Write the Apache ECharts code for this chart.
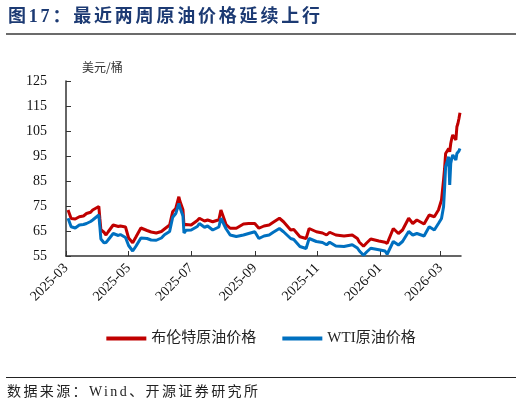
<!DOCTYPE html>
<html>
<head>
<meta charset="utf-8">
<script src="https://cdn.jsdelivr.net/npm/echarts@6/dist/echarts.min.js"></script>
<style>
  body { margin: 0; background: #fff; }
  .wrap { position: relative; width: 522px; height: 408px; overflow: hidden; }
  #chart { position: absolute; left: 0; top: 0; width: 522px; height: 408px; }
  .title {
    position: absolute; left: 8px; top: 4px;
    font-family: "Liberation Serif", "Noto Sans CJK SC", serif;
    font-weight: bold; font-size: 18px; letter-spacing: 2.8px;
    color: #1c3a73; line-height: 24px; white-space: nowrap;
  }
  .rule-top { position: absolute; left: 6px; width: 510px; top: 33px; height: 2px; background: #6b6b6b; }
  .rule-bottom { position: absolute; left: 6px; width: 510px; top: 377px; height: 1px; background: #222; }
  .source {
    position: absolute; left: 7px; top: 383px;
    font-family: "Liberation Serif", "Noto Sans CJK SC", serif;
    font-size: 14px; letter-spacing: 2.4px; color: #222; line-height: 18px; white-space: nowrap;
  }
</style>
</head>
<body>
<div class="wrap">
  <div id="chart"></div>
  <div class="title">图17：最近两周原油价格延续上行</div>
  <div class="rule-top"></div>
  <div class="rule-bottom"></div>
  <div class="source">数据来源：Wind、开源证券研究所</div>
</div>
<script>
const dates = [
  "2025-03-03", "2025-03-06", "2025-03-10", "2025-03-14", "2025-03-18", "2025-03-21", "2025-03-25", "2025-03-27",
  "2025-04-02", "2025-04-03", "2025-04-04", "2025-04-07", "2025-04-09", "2025-04-11", "2025-04-16", "2025-04-21",
  "2025-04-23", "2025-04-28", "2025-05-01", "2025-05-05", "2025-05-08", "2025-05-13", "2025-05-19", "2025-05-23",
  "2025-05-28", "2025-06-02", "2025-06-05", "2025-06-10", "2025-06-13", "2025-06-16", "2025-06-19", "2025-06-20",
  "2025-06-23", "2025-06-24", "2025-06-26", "2025-07-01", "2025-07-07", "2025-07-09", "2025-07-14", "2025-07-17",
  "2025-07-22", "2025-07-28", "2025-07-30", "2025-08-04", "2025-08-08", "2025-08-14", "2025-08-21", "2025-08-26",
  "2025-09-01", "2025-09-05", "2025-09-10", "2025-09-15", "2025-09-19", "2025-09-25", "2025-09-29", "2025-10-06",
  "2025-10-09", "2025-10-15", "2025-10-21", "2025-10-24", "2025-10-31", "2025-11-06", "2025-11-10", "2025-11-13",
  "2025-11-19", "2025-11-27", "2025-12-05", "2025-12-10", "2025-12-12", "2025-12-16", "2025-12-19", "2025-12-23",
  "2025-12-31", "2026-01-06", "2026-01-08", "2026-01-14", "2026-01-19", "2026-01-23", "2026-01-29", "2026-02-02",
  "2026-02-06", "2026-02-13", "2026-02-18", "2026-02-23", "2026-02-27", "2026-03-02", "2026-03-04", "2026-03-05",
  "2026-03-06", "2026-03-09", "2026-03-10", "2026-03-11", "2026-03-12", "2026-03-13", "2026-03-16", "2026-03-17",
  "2026-03-18", "2026-03-19", "2026-03-20"
];
const brent = [
  73.4, 70.0, 69.8, 70.7, 71.0, 72.0, 72.5, 73.4,
  74.8, 70.0, 65.5, 64.5, 63.4, 64.6, 67.4, 66.8,
  67.0, 66.6, 62.2, 60.3, 62.5, 66.2, 65.2, 64.6,
  64.2, 64.8, 65.8, 67.4, 72.8, 74.0, 78.7, 77.0,
  73.5, 67.4, 67.6, 67.4, 69.2, 70.1, 69.0, 69.4,
  68.7, 69.5, 73.4, 67.6, 66.1, 66.1, 67.8, 68.0,
  68.0, 66.1, 67.0, 67.4, 68.5, 70.1, 68.7, 65.4,
  65.6, 62.7, 62.0, 66.0, 64.7, 64.2, 63.4, 64.5,
  63.4, 63.0, 63.4, 62.0, 60.5, 58.9, 60.2, 61.8,
  61.0, 60.5, 60.0, 66.0, 64.0, 65.4, 70.1, 68.0,
  69.4, 67.8, 71.4, 70.7, 73.4, 77.4, 85.4, 90.0,
  96.0, 98.0, 96.7, 100.0, 102.0, 103.4, 101.4, 106.7,
  108.0, 110.0, 112.3
];
const wti = [
  70.1, 66.7, 66.2, 67.4, 67.6, 68.0, 68.8, 69.4,
  71.4, 66.8, 61.8, 60.3, 60.4, 61.4, 64.0, 63.2,
  63.6, 62.4, 59.2, 57.0, 58.8, 62.2, 62.0, 61.4,
  61.3, 62.2, 63.5, 64.8, 70.5, 72.0, 76.0, 74.5,
  71.0, 64.2, 65.3, 65.4, 66.8, 68.0, 66.5, 67.0,
  65.4, 66.6, 70.1, 65.9, 63.4, 62.8, 63.4, 64.0,
  64.7, 62.0, 63.0, 63.4, 64.5, 66.0, 64.7, 62.0,
  61.6, 58.8, 58.0, 62.0, 60.8, 60.4, 59.5, 60.5,
  59.0, 58.8, 59.5, 58.2, 57.0, 55.3, 56.6, 58.1,
  57.5, 57.0, 55.7, 60.8, 59.4, 60.8, 64.8, 63.4,
  64.0, 63.0, 66.7, 65.4, 68.0, 70.0, 74.7, 82.0,
  90.7, 94.7, 83.4, 92.0, 94.0, 95.4, 93.4, 96.0,
  96.5, 97.0, 98.0
];
const xTicks = ["2025-03-01", "2025-05-01", "2025-07-01", "2025-09-01", "2025-11-01", "2026-01-01", "2026-03-01"];
const yTicks = [55, 65, 75, 85, 95, 105, 115, 125];

const serif = '"Liberation Serif", "Noto Sans CJK SC", serif';
const ts = s => Date.UTC(+s.slice(0, 4), +s.slice(5, 7) - 1, +s.slice(8, 10));
const pad = n => (n < 10 ? "0" : "") + n;

const chart = echarts.init(document.getElementById("chart"));
chart.setOption({
  animation: false,
  grid: { left: 66, top: 81, width: 395, height: 175 },
  legend: {
    top: 326,
    left: "center",
    icon: "rect",
    itemWidth: 40,
    itemHeight: 4,
    itemGap: 26,
    textStyle: { fontFamily: serif, fontSize: 15, color: "#222" },
    data: ["布伦特原油价格", "WTI原油价格"]
  },
  graphic: [
    { type: "text", left: 82, top: 61, style: { text: "美元/桶", font: '12px "Noto Sans CJK SC"', fill: "#333" } }
  ],
  xAxis: {
    type: "value",
    min: ts("2025-03-01"),
    max: ts("2026-03-21"),
    axisLine: { lineStyle: { color: "#333", width: 1.5 } },
    axisTick: { show: true, inside: true, length: 5, customValues: xTicks.map(ts), lineStyle: { color: "#333" } },
    axisLabel: {
      customValues: xTicks.map(ts),
      rotate: 45,
      margin: 10,
      fontFamily: serif,
      fontSize: 14,
      color: "#111",
      formatter: v => { const d = new Date(v); return d.getUTCFullYear() + "-" + pad(d.getUTCMonth() + 1); }
    },
    splitLine: { show: false }
  },
  yAxis: {
    type: "value",
    min: 55,
    max: 125,
    axisLine: { show: true, lineStyle: { color: "#333", width: 1.5 } },
    axisTick: { show: true, inside: true, length: 5, customValues: yTicks, lineStyle: { color: "#333" } },
    axisLabel: { customValues: yTicks, margin: 19, fontFamily: serif, fontSize: 14, color: "#111" },
    splitLine: { show: false }
  },
  series: [
    {
      name: "布伦特原油价格",
      type: "line",
      symbol: "none",
      color: "#C00000",
      lineStyle: { width: 3, color: "#C00000" },
      data: dates.map((d, i) => [ts(d), brent[i]])
    },
    {
      name: "WTI原油价格",
      type: "line",
      symbol: "none",
      color: "#0070C0",
      lineStyle: { width: 3, color: "#0070C0" },
      data: dates.map((d, i) => [ts(d), wti[i]])
    }
  ]
});
</script>
</body>
</html>
